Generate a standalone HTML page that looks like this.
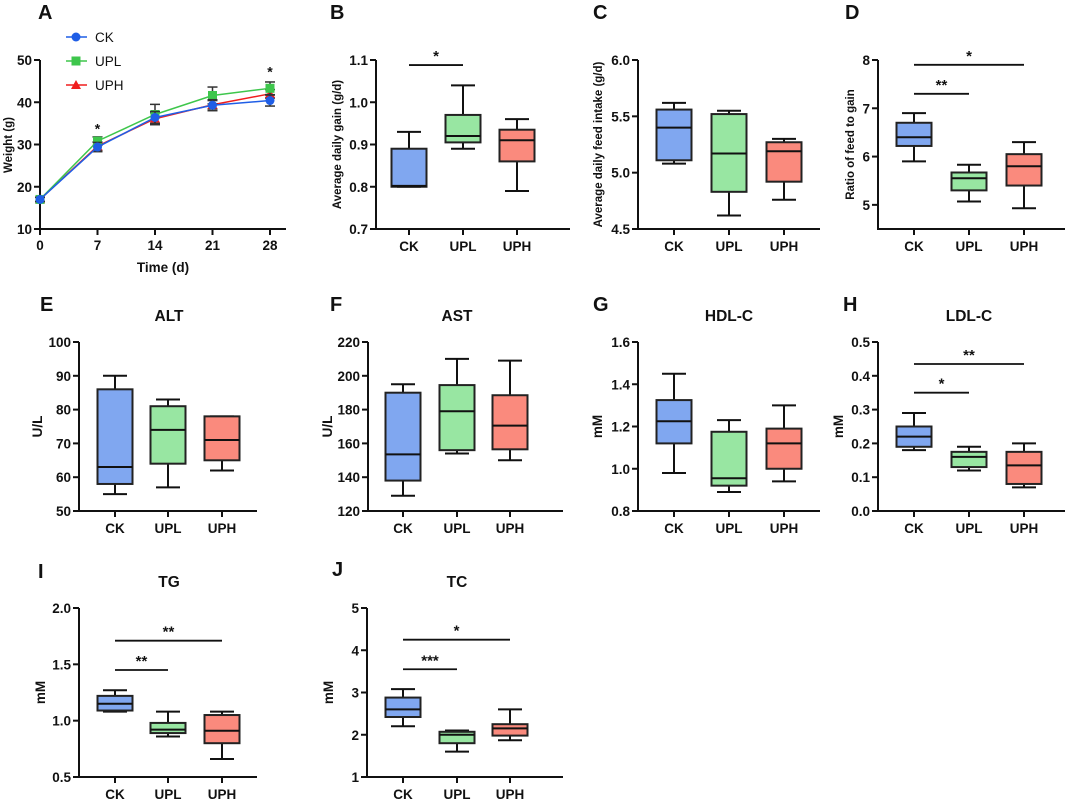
<!DOCTYPE html>
<html><head><meta charset="utf-8"><style>
html,body{margin:0;padding:0;background:#fff}
svg{display:block;font-family:"Liberation Sans",Arial,sans-serif}
</style></head><body>
<svg id="fig" width="1065" height="801" viewBox="0 0 1065 801" xmlns="http://www.w3.org/2000/svg"></svg>
<script>
// ---------- Panel A data ----------
const aDays = [0, 7, 14, 21, 28];
const aTicksY = [10, 20, 30, 40, 50];
const aCK = [17, 29.4, 36.4, 39.3, 40.4];
const aUPL = [17, 30.8, 37.1, 41.6, 43.3];
const aUPH = [17, 29.6, 36.1, 39.4, 42.0];
const aErrCK = [0.5, 1.1, 1.4, 1.3, 1.3];
const aErrUPL = [0.5, 1.0, 2.4, 2.0, 1.5];
const aErrUPH = [0.5, 1.0, 1.4, 1.0, 1.0];
const aStarDays = [7, 28];
const aStarVals = [34.5, 48];

// ---------- Box panel data [min, q1, median, q3, max] ----------
const groups = ["CK", "UPL", "UPH"];
const bCK = [0.80, 0.80, 0.802, 0.89, 0.93], bUPL = [0.89, 0.905, 0.92, 0.97, 1.04], bUPH = [0.79, 0.86, 0.91, 0.935, 0.96];
const bTicks = [0.7, 0.8, 0.9, 1.0, 1.1];
const cCK = [5.08, 5.11, 5.40, 5.56, 5.62], cUPL = [4.62, 4.83, 5.17, 5.52, 5.55], cUPH = [4.76, 4.92, 5.19, 5.27, 5.30];
const cTicks = [4.5, 5.0, 5.5, 6.0];
const dCK = [5.9, 6.22, 6.4, 6.7, 6.9], dUPL = [5.07, 5.3, 5.55, 5.67, 5.83], dUPH = [4.93, 5.4, 5.8, 6.05, 6.3];
const dTicks = [5, 6, 7, 8];
const eCK = [55, 58, 63, 86, 90], eUPL = [57, 64, 74, 81, 83], eUPH = [62, 65, 71, 78, 78];
const eTicks = [50, 60, 70, 80, 90, 100];
const fCK = [129, 138, 153.5, 190, 195], fUPL = [154, 156, 179, 194.5, 210], fUPH = [150, 156.5, 170.5, 188.5, 209];
const fTicks = [120, 140, 160, 180, 200, 220];
const gCK = [0.98, 1.12, 1.225, 1.325, 1.45], gUPL = [0.89, 0.92, 0.955, 1.175, 1.23], gUPH = [0.94, 1.0, 1.12, 1.19, 1.30];
const gTicks = [0.8, 1.0, 1.2, 1.4, 1.6];
const hCK = [0.18, 0.19, 0.22, 0.25, 0.29], hUPL = [0.12, 0.13, 0.16, 0.175, 0.19], hUPH = [0.07, 0.08, 0.135, 0.175, 0.20];
const hTicks = [0.0, 0.1, 0.2, 0.3, 0.4, 0.5];
const iCK = [1.08, 1.09, 1.15, 1.22, 1.27], iUPL = [0.86, 0.89, 0.92, 0.98, 1.08], iUPH = [0.66, 0.80, 0.91, 1.05, 1.08];
const iTicks = [0.5, 1.0, 1.5, 2.0];
const jCK = [2.2, 2.42, 2.6, 2.88, 3.08], jUPL = [1.6, 1.8, 2.0, 2.07, 2.1], jUPH = [1.87, 1.98, 2.15, 2.25, 2.6];
const jTicks = [1, 2, 3, 4, 5];
// significance brackets: [fromGroup, toGroup, yValue, label]
const bSig = [[0, 1, 1.088, "*"]];
const dSig = [[0, 1, 7.3, "**"], [0, 2, 7.9, "*"]];
const hSig = [[0, 1, 0.35, "*"], [0, 2, 0.435, "**"]];
const iSig = [[0, 1, 1.45, "**"], [0, 2, 1.71, "**"]];
const jSig = [[0, 1, 3.55, "***"], [0, 2, 4.25, "*"]];

const NS = "http://www.w3.org/2000/svg";
const svg = document.getElementById("fig");
function mk(tag, attrs, parent, text) {
  const e = document.createElementNS(NS, tag);
  for (const k in attrs) e.setAttribute(k, attrs[k]);
  if (text !== undefined) e.textContent = text;
  (parent || svg).appendChild(e);
  return e;
}
const FILL = ["#80a7f0", "#98e6a2", "#fa8a7d"];

function letter(t, x, y) {
  const e = mk("text", {x: x, y: y, "font-size": 20, "font-weight": "bold", fill: "#111"}, svg, t);
  
  
}

function boxPanel(cfg) {
  const g = mk("g", {});
  
  
  const lo = cfg.min, hi = cfg.max;
  const Y = v => cfg.bottom - (v - lo) / (hi - lo) * (cfg.bottom - cfg.top);
  const X = i => cfg.cx[i];
  const ya = mk("line", {x1: cfg.ax, y1: cfg.top, x2: cfg.ax, y2: cfg.bottom, stroke: "#111", "stroke-width": 2}, g);
  
  
  const xa = mk("line", {x1: cfg.ax - 1, y1: cfg.bottom, x2: cfg.axEnd, y2: cfg.bottom, stroke: "#111", "stroke-width": 2}, g);
  
  
  cfg.ticks.forEach(t => {
    const y = Y(t);
    mk("line", {x1: cfg.ax - 6, y1: y, x2: cfg.ax, y2: y, stroke: "#111", "stroke-width": 2}, g);
    const tl = mk("text", {x: cfg.ax - 8, y: y + 5, "text-anchor": "end", "font-size": 13.5, "font-weight": "bold", fill: "#111"}, g, t.toFixed(cfg.dec));
    
    
  });
  groups.forEach((name, i) => {
    mk("line", {x1: X(i), y1: cfg.bottom, x2: X(i), y2: cfg.bottom + 6, stroke: "#111", "stroke-width": 2}, g);
    const xl = mk("text", {x: X(i), y: cfg.bottom + 22, "text-anchor": "middle", "font-size": 13.5, "font-weight": "bold", fill: "#111"}, g, name);
    
    
    const d = cfg.data[i];
    const w = 35, hw = w / 2, cw = 12;
    const bg = mk("g", {}, g);
    
    
    mk("line", {x1: X(i), y1: Y(d[4]), x2: X(i), y2: Y(d[3]), stroke: "#111", "stroke-width": 2}, bg);
    mk("line", {x1: X(i), y1: Y(d[1]), x2: X(i), y2: Y(d[0]), stroke: "#111", "stroke-width": 2}, bg);
    mk("line", {x1: X(i) - cw, y1: Y(d[4]), x2: X(i) + cw, y2: Y(d[4]), stroke: "#111", "stroke-width": 2}, bg);
    mk("line", {x1: X(i) - cw, y1: Y(d[0]), x2: X(i) + cw, y2: Y(d[0]), stroke: "#111", "stroke-width": 2}, bg);
    mk("rect", {x: X(i) - hw, y: Y(d[3]), width: w, height: Math.max(1, Y(d[1]) - Y(d[3])), fill: FILL[i], stroke: "#222", "stroke-width": 2}, bg);
    mk("line", {x1: X(i) - hw, y1: Y(d[2]), x2: X(i) + hw, y2: Y(d[2]), stroke: "#111", "stroke-width": 2}, bg);
  });
  (cfg.sig || []).forEach(s => {
    const y = Y(s[2]);
    const sl = mk("line", {x1: X(s[0]), y1: y, x2: X(s[1]), y2: y, stroke: "#111", "stroke-width": 1.8}, g);
    
    
    const st = mk("text", {x: (X(s[0]) + X(s[1])) / 2, y: y - 4, "text-anchor": "middle", "font-size": 15, "font-weight": "bold", fill: "#111"}, g, s[3]);
    
    
  });
  const cy = (cfg.top + cfg.bottom) / 2;
  const yl = mk("text", {x: cfg.ylx, y: cy, transform: `rotate(-90 ${cfg.ylx} ${cy})`, "text-anchor": "middle", "font-size": cfg.ylSize || 13.5, "font-weight": "bold", fill: "#111"}, g, cfg.ylabel);
  
  
  if (cfg.title) {
    const tt = mk("text", {x: cfg.titleX, y: cfg.top - 21, "text-anchor": "middle", "font-size": 15.5, "font-weight": "bold", fill: "#111"}, g, cfg.title);
    
    
  }
}

// ---------- Panel A ----------
(function () {
  const g = mk("g", {});
  
  
  const ax = 40, axEnd = 286, top = 60, bottom = 229, x0 = 40, x28 = 270;
  const X = d => x0 + (d - aDays[0]) / (aDays[aDays.length - 1] - aDays[0]) * (x28 - x0);
  const Y = v => bottom - (v - aTicksY[0]) / (aTicksY[aTicksY.length - 1] - aTicksY[0]) * (bottom - top);
  mk("line", {x1: ax, y1: top, x2: ax, y2: bottom, stroke: "#111", "stroke-width": 2}, g);
  mk("line", {x1: ax - 1, y1: bottom, x2: axEnd, y2: bottom, stroke: "#111", "stroke-width": 2}, g);
  aTicksY.forEach(t => {
    mk("line", {x1: ax - 6, y1: Y(t), x2: ax, y2: Y(t), stroke: "#111", "stroke-width": 2}, g);
    const e = mk("text", {x: ax - 8, y: Y(t) + 5, "text-anchor": "end", "font-size": 13.5, "font-weight": "bold", fill: "#111"}, g, String(t));
    
    
  });
  aDays.forEach(d => {
    mk("line", {x1: X(d), y1: bottom, x2: X(d), y2: bottom + 6, stroke: "#111", "stroke-width": 2}, g);
    const e = mk("text", {x: X(d), y: bottom + 21, "text-anchor": "middle", "font-size": 13.5, "font-weight": "bold", fill: "#111"}, g, String(d));
    
    
  });
  const xt = mk("text", {x: 163, y: 272, "text-anchor": "middle", "font-size": 13.5, "font-weight": "bold", fill: "#111"}, g, "Time (d)");
  
  
  const yt = mk("text", {x: 12, y: 145, transform: "rotate(-90 12 145)", "text-anchor": "middle", "font-size": 11.5, "font-weight": "bold", fill: "#111"}, g, "Weight (g)");
  
  
  const series = [
    {n: "UPH", v: aUPH, e: aErrUPH, c: "#f01e1e", m: "tri"},
    {n: "UPL", v: aUPL, e: aErrUPL, c: "#3ec64c", m: "sq"},
    {n: "CK", v: aCK, e: aErrCK, c: "#1f5ee6", m: "circ"}
  ];
  function marker(m, x, y, c, parent) {
    if (m === "circ") mk("circle", {cx: x, cy: y, r: 4.5, fill: c}, parent);
    else if (m === "sq") mk("rect", {x: x - 4.5, y: y - 4.5, width: 9, height: 9, fill: c}, parent);
    else mk("polygon", {points: `${x},${y - 5} ${x + 5},${y + 4} ${x - 5},${y + 4}`, fill: c}, parent);
  }
  series.forEach(s => {
    const sg = mk("g", {}, g);
    
    
    s.v.forEach((v, i) => {
      const x = X(aDays[i]);
      mk("line", {x1: x, y1: Y(v - s.e[i]), x2: x, y2: Y(v + s.e[i]), stroke: "#333", "stroke-width": 1.5}, sg);
      mk("line", {x1: x - 5, y1: Y(v + s.e[i]), x2: x + 5, y2: Y(v + s.e[i]), stroke: "#333", "stroke-width": 1.5}, sg);
      mk("line", {x1: x - 5, y1: Y(v - s.e[i]), x2: x + 5, y2: Y(v - s.e[i]), stroke: "#333", "stroke-width": 1.5}, sg);
    });
    mk("polyline", {points: s.v.map((v, i) => X(aDays[i]) + "," + Y(v)).join(" "), fill: "none", stroke: s.c, "stroke-width": 1.5}, sg);
    s.v.forEach((v, i) => marker(s.m, X(aDays[i]), Y(v), s.c, sg));
  });
  aStarDays.forEach((d, i) => {
    const e = mk("text", {x: X(d), y: Y(aStarVals[i]) + 8, "text-anchor": "middle", "font-size": 14, "font-weight": "bold", fill: "#111"}, g, "*");
    
    
  });
  const leg = [["CK", "#1f5ee6", "circ", 37], ["UPL", "#3ec64c", "sq", 61], ["UPH", "#f01e1e", "tri", 85]];
  leg.forEach(l => {
    const lg = mk("g", {}, g);
    
    
    mk("line", {x1: 66, y1: l[3], x2: 87, y2: l[3], stroke: l[1], "stroke-width": 1.5}, lg);
    marker(l[2], 76, l[3], l[1], lg);
    mk("text", {x: 95, y: l[3] + 5, "font-size": 13.5, fill: "#111"}, lg, l[0]);
  });
})();

letter("A", 38, 19); letter("B", 330, 19); letter("C", 593, 19); letter("D", 845, 19);
letter("E", 40, 311); letter("F", 330, 311); letter("G", 593, 311); letter("H", 843, 311);
letter("I", 38, 578); letter("J", 332, 576);

boxPanel({name: "adg", ax: 376, axEnd: 570, top: 60, bottom: 229, min: 0.7, max: 1.1, ticks: bTicks, dec: 1, cx: [409, 463, 517], data: [bCK, bUPL, bUPH], sig: bSig, ylabel: "Average daily gain (g/d)", ylx: 341, ylSize: 11.5});
boxPanel({name: "adfi", ax: 638, axEnd: 820, top: 60, bottom: 229, min: 4.5, max: 6.0, ticks: cTicks, dec: 1, cx: [674, 729, 784], data: [cCK, cUPL, cUPH], ylabel: "Average daily feed intake (g/d)", ylx: 602, ylSize: 11.5});
boxPanel({name: "fcr", ax: 878, axEnd: 1065, top: 60, bottom: 229, min: 4.5, max: 8.0, ticks: dTicks, dec: 0, cx: [914, 969, 1024], data: [dCK, dUPL, dUPH], sig: dSig, ylabel: "Ratio of feed to gain", ylx: 854, ylSize: 11.5});
boxPanel({name: "alt", ax: 79, axEnd: 257, top: 342, bottom: 511, min: 50, max: 100, ticks: eTicks, dec: 0, cx: [115, 168, 222], data: [eCK, eUPL, eUPH], ylabel: "U/L", ylx: 42, title: "ALT", titleX: 169});
boxPanel({name: "ast", ax: 368, axEnd: 563, top: 342, bottom: 511, min: 120, max: 220, ticks: fTicks, dec: 0, cx: [403, 457, 510], data: [fCK, fUPL, fUPH], ylabel: "U/L", ylx: 332, title: "AST", titleX: 457});
boxPanel({name: "hdl", ax: 638, axEnd: 820, top: 342, bottom: 511, min: 0.8, max: 1.6, ticks: gTicks, dec: 1, cx: [674, 729, 784], data: [gCK, gUPL, gUPH], ylabel: "mM", ylx: 602, title: "HDL-C", titleX: 729});
boxPanel({name: "ldl", ax: 878, axEnd: 1065, top: 342, bottom: 511, min: 0, max: 0.5, ticks: hTicks, dec: 1, cx: [914, 969, 1024], data: [hCK, hUPL, hUPH], sig: hSig, ylabel: "mM", ylx: 843, title: "LDL-C", titleX: 969});
boxPanel({name: "tg", ax: 79, axEnd: 257, top: 608, bottom: 777, min: 0.5, max: 2.0, ticks: iTicks, dec: 1, cx: [115, 168, 222], data: [iCK, iUPL, iUPH], sig: iSig, ylabel: "mM", ylx: 45, title: "TG", titleX: 169});
boxPanel({name: "tc", ax: 367, axEnd: 563, top: 608, bottom: 777, min: 1, max: 5, ticks: jTicks, dec: 0, cx: [403, 457, 510], data: [jCK, jUPL, jUPH], sig: jSig, ylabel: "mM", ylx: 333, title: "TC", titleX: 457});
</script>
</body></html>
